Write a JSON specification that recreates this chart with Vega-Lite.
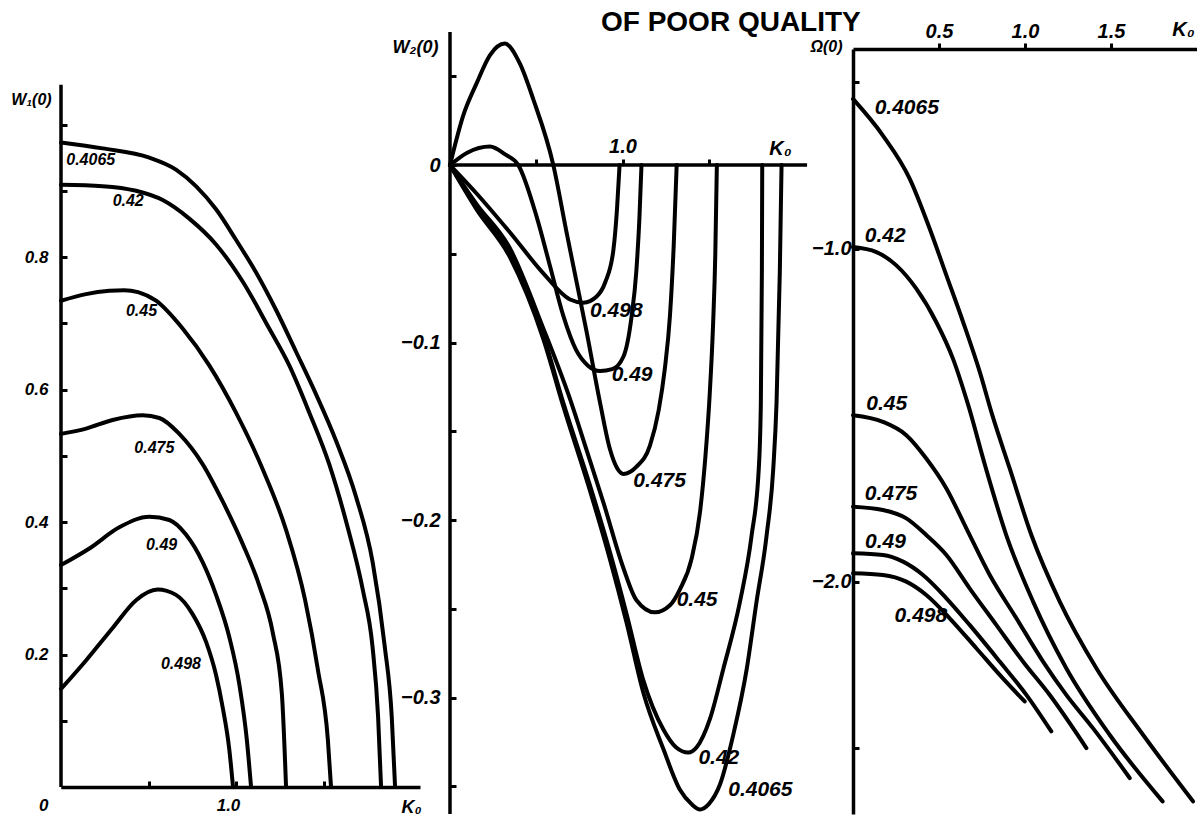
{
"$schema": "https://vega.github.io/schema/vega-lite/v6.json",
"background": "white",
"padding": {"left": 10, "top": 9, "right": 0, "bottom": 0},
"bounds": "flush",
"spacing": 30,
"title": {"text": "OF POOR QUALITY", "font": "Liberation Sans", "fontSize": 28, "fontWeight": "bold", "color": "black", "anchor": "start", "frame": "group", "dx": 540, "offset": -18},
"config": {
  "view": {"stroke": null},
  "axis": {"grid": false, "domainColor": "black", "domainWidth": 3.5, "tickColor": "black", "tickWidth": 3, "labelColor": "black", "labelFont": "Liberation Sans", "labelFontWeight": "bold", "labelFontStyle": "italic", "labelFlush": false, "labelOverlap": false, "labelBound": false, "titleFont": "Liberation Sans", "titleFontWeight": "bold", "titleFontStyle": "italic", "titleColor": "black"}
},
"datasets": {
  "p1": [
    {"p":"0.4065","k":0,"w":0.973},{"p":"0.4065","k":0.238,"w":0.964},{"p":"0.4065","k":0.505,"w":0.95},{"p":"0.4065","k":0.657,"w":0.932},{"p":"0.4065","k":0.771,"w":0.907},{"p":"0.4065","k":0.886,"w":0.872},{"p":"0.4065","k":1.0,"w":0.826},{"p":"0.4065","k":1.114,"w":0.777},{"p":"0.4065","k":1.229,"w":0.72},{"p":"0.4065","k":1.343,"w":0.657},{"p":"0.4065","k":1.457,"w":0.593},{"p":"0.4065","k":1.571,"w":0.523},{"p":"0.4065","k":1.686,"w":0.438},{"p":"0.4065","k":1.781,"w":0.339},{"p":"0.4065","k":1.85,"w":0.212},{"p":"0.4065","k":1.89,"w":0.106},{"p":"0.4065","k":1.909,"w":0},
    {"p":"0.42","k":0,"w":0.909},{"p":"0.42","k":0.238,"w":0.907},{"p":"0.42","k":0.429,"w":0.9},{"p":"0.42","k":0.581,"w":0.886},{"p":"0.42","k":0.733,"w":0.858},{"p":"0.42","k":0.886,"w":0.819},{"p":"0.42","k":1.038,"w":0.763},{"p":"0.42","k":1.19,"w":0.692},{"p":"0.42","k":1.305,"w":0.636},{"p":"0.42","k":1.419,"w":0.565},{"p":"0.42","k":1.533,"w":0.487},{"p":"0.42","k":1.635,"w":0.395},{"p":"0.42","k":1.725,"w":0.297},{"p":"0.42","k":1.78,"w":0.212},{"p":"0.42","k":1.812,"w":0.106},{"p":"0.42","k":1.829,"w":0},
    {"p":"0.45","k":0,"w":0.734},{"p":"0.45","k":0.143,"w":0.744},{"p":"0.45","k":0.276,"w":0.749},{"p":"0.45","k":0.36,"w":0.75},{"p":"0.45","k":0.44,"w":0.747},{"p":"0.45","k":0.543,"w":0.734},{"p":"0.45","k":0.695,"w":0.692},{"p":"0.45","k":0.848,"w":0.636},{"p":"0.45","k":1.0,"w":0.565},{"p":"0.45","k":1.152,"w":0.48},{"p":"0.45","k":1.286,"w":0.388},{"p":"0.45","k":1.395,"w":0.282},{"p":"0.45","k":1.468,"w":0.177},{"p":"0.45","k":1.525,"w":0.071},{"p":"0.45","k":1.543,"w":0},
    {"p":"0.475","k":0,"w":0.533},{"p":"0.475","k":0.143,"w":0.541},{"p":"0.475","k":0.295,"w":0.554},{"p":"0.475","k":0.467,"w":0.561},{"p":"0.475","k":0.562,"w":0.557},{"p":"0.475","k":0.676,"w":0.533},{"p":"0.475","k":0.81,"w":0.487},{"p":"0.475","k":0.924,"w":0.431},{"p":"0.475","k":1.038,"w":0.367},{"p":"0.475","k":1.133,"w":0.304},{"p":"0.475","k":1.21,"w":0.233},{"p":"0.475","k":1.262,"w":0.141},{"p":"0.475","k":1.286,"w":0},
    {"p":"0.49","k":0,"w":0.335},{"p":"0.49","k":0.162,"w":0.36},{"p":"0.49","k":0.333,"w":0.392},{"p":"0.49","k":0.505,"w":0.408},{"p":"0.49","k":0.619,"w":0.403},{"p":"0.49","k":0.714,"w":0.381},{"p":"0.49","k":0.81,"w":0.339},{"p":"0.49","k":0.886,"w":0.29},{"p":"0.49","k":0.962,"w":0.226},{"p":"0.49","k":1.019,"w":0.155},{"p":"0.49","k":1.062,"w":0.071},{"p":"0.49","k":1.086,"w":0},
    {"p":"0.498","k":0,"w":0.148},{"p":"0.498","k":0.143,"w":0.191},{"p":"0.498","k":0.295,"w":0.24},{"p":"0.498","k":0.429,"w":0.282},{"p":"0.498","k":0.552,"w":0.298},{"p":"0.498","k":0.657,"w":0.29},{"p":"0.498","k":0.752,"w":0.261},{"p":"0.498","k":0.829,"w":0.219},{"p":"0.498","k":0.886,"w":0.169},{"p":"0.498","k":0.924,"w":0.12},{"p":"0.498","k":0.962,"w":0.056},{"p":"0.498","k":0.983,"w":0}
  ],
  "p2": [
    {"p":"0.498","k":0,"w":0},{"p":"0.498","k":0.154,"w":-0.016},{"p":"0.498","k":0.348,"w":-0.038},{"p":"0.498","k":0.541,"w":-0.061},{"p":"0.498","k":0.696,"w":-0.0757},{"p":"0.498","k":0.773,"w":-0.0775},{"p":"0.498","k":0.85,"w":-0.074},{"p":"0.498","k":0.9,"w":-0.066},{"p":"0.498","k":0.947,"w":-0.048},{"p":"0.498","k":0.968,"w":-0.025},{"p":"0.498","k":0.983,"w":0},
    {"p":"0.49","k":0,"w":0},{"p":"0.49","k":0.1,"w":0.007},{"p":"0.49","k":0.232,"w":0.0105},{"p":"0.49","k":0.32,"w":0.006},{"p":"0.49","k":0.396,"w":0},{"p":"0.49","k":0.502,"w":-0.029},{"p":"0.49","k":0.58,"w":-0.057},{"p":"0.49","k":0.657,"w":-0.085},{"p":"0.49","k":0.73,"w":-0.104},{"p":"0.49","k":0.8,"w":-0.113},{"p":"0.49","k":0.87,"w":-0.116},{"p":"0.49","k":0.94,"w":-0.115},{"p":"0.49","k":1.005,"w":-0.108},{"p":"0.49","k":1.053,"w":-0.085},{"p":"0.49","k":1.08,"w":-0.06},{"p":"0.49","k":1.098,"w":-0.03},{"p":"0.49","k":1.11,"w":0},
    {"p":"0.475","k":0,"w":0},{"p":"0.475","k":0.077,"w":0.028},{"p":"0.475","k":0.154,"w":0.046},{"p":"0.475","k":0.232,"w":0.062},{"p":"0.475","k":0.317,"w":0.0685},{"p":"0.475","k":0.406,"w":0.057},{"p":"0.475","k":0.483,"w":0.037},{"p":"0.475","k":0.599,"w":0},{"p":"0.475","k":0.676,"w":-0.038},{"p":"0.475","k":0.734,"w":-0.066},{"p":"0.475","k":0.792,"w":-0.094},{"p":"0.475","k":0.87,"w":-0.134},{"p":"0.475","k":0.927,"w":-0.16},{"p":"0.475","k":0.97,"w":-0.171},{"p":"0.475","k":1.005,"w":-0.174},{"p":"0.475","k":1.08,"w":-0.17},{"p":"0.475","k":1.159,"w":-0.158},{"p":"0.475","k":1.21,"w":-0.138},{"p":"0.475","k":1.245,"w":-0.115},{"p":"0.475","k":1.275,"w":-0.085},{"p":"0.475","k":1.297,"w":-0.045},{"p":"0.475","k":1.314,"w":0},
    {"p":"0.45","k":0,"w":0},{"p":"0.45","k":0.154,"w":-0.022},{"p":"0.45","k":0.348,"w":-0.047},{"p":"0.45","k":0.541,"w":-0.092},{"p":"0.45","k":0.7,"w":-0.133},{"p":"0.45","k":0.79,"w":-0.16},{"p":"0.45","k":0.889,"w":-0.19},{"p":"0.45","k":1.005,"w":-0.227},{"p":"0.45","k":1.08,"w":-0.245},{"p":"0.45","k":1.188,"w":-0.252},{"p":"0.45","k":1.275,"w":-0.248},{"p":"0.45","k":1.333,"w":-0.239},{"p":"0.45","k":1.4,"w":-0.222},{"p":"0.45","k":1.45,"w":-0.195},{"p":"0.45","k":1.48,"w":-0.165},{"p":"0.45","k":1.505,"w":-0.13},{"p":"0.45","k":1.525,"w":-0.09},{"p":"0.45","k":1.538,"w":-0.05},{"p":"0.45","k":1.547,"w":0},
    {"p":"0.42","k":0,"w":0},{"p":"0.42","k":0.154,"w":-0.024},{"p":"0.42","k":0.348,"w":-0.05},{"p":"0.42","k":0.541,"w":-0.096},{"p":"0.42","k":0.657,"w":-0.134},{"p":"0.42","k":0.81,"w":-0.18},{"p":"0.42","k":0.927,"w":-0.218},{"p":"0.42","k":1.024,"w":-0.253},{"p":"0.42","k":1.12,"w":-0.29},{"p":"0.42","k":1.237,"w":-0.318},{"p":"0.42","k":1.31,"w":-0.328},{"p":"0.42","k":1.381,"w":-0.331},{"p":"0.42","k":1.43,"w":-0.328},{"p":"0.42","k":1.507,"w":-0.312},{"p":"0.42","k":1.584,"w":-0.284},{"p":"0.42","k":1.681,"w":-0.246},{"p":"0.42","k":1.748,"w":-0.209},{"p":"0.42","k":1.79,"w":-0.171},{"p":"0.42","k":1.802,"w":-0.134},{"p":"0.42","k":1.808,"w":-0.06},{"p":"0.42","k":1.81,"w":0},
    {"p":"0.4065","k":0,"w":0},{"p":"0.4065","k":0.154,"w":-0.025},{"p":"0.4065","k":0.348,"w":-0.052},{"p":"0.4065","k":0.541,"w":-0.098},{"p":"0.4065","k":0.657,"w":-0.136},{"p":"0.4065","k":0.81,"w":-0.183},{"p":"0.4065","k":0.927,"w":-0.222},{"p":"0.4065","k":1.024,"w":-0.258},{"p":"0.4065","k":1.12,"w":-0.297},{"p":"0.4065","k":1.237,"w":-0.329},{"p":"0.4065","k":1.333,"w":-0.352},{"p":"0.4065","k":1.4,"w":-0.36},{"p":"0.4065","k":1.449,"w":-0.363},{"p":"0.4065","k":1.5,"w":-0.36},{"p":"0.4065","k":1.565,"w":-0.349},{"p":"0.4065","k":1.642,"w":-0.321},{"p":"0.4065","k":1.72,"w":-0.284},{"p":"0.4065","k":1.777,"w":-0.246},{"p":"0.4065","k":1.835,"w":-0.209},{"p":"0.4065","k":1.874,"w":-0.171},{"p":"0.4065","k":1.893,"w":-0.134},{"p":"0.4065","k":1.912,"w":-0.06},{"p":"0.4065","k":1.922,"w":0}
  ],
  "p3": [
    {"p":"0.4065","k":0,"w":-0.55},{"p":"0.4065","k":0.174,"w":-0.66},{"p":"0.4065","k":0.33,"w":-0.79},{"p":"0.4065","k":0.446,"w":-0.94},{"p":"0.4065","k":0.543,"w":-1.08},{"p":"0.4065","k":0.64,"w":-1.22},{"p":"0.4065","k":0.737,"w":-1.37},{"p":"0.4065","k":0.81,"w":-1.5},{"p":"0.4065","k":0.911,"w":-1.66},{"p":"0.4065","k":1.037,"w":-1.86},{"p":"0.4065","k":1.202,"w":-2.06},{"p":"0.4065","k":1.415,"w":-2.26},{"p":"0.4065","k":1.686,"w":-2.46},{"p":"0.4065","k":1.977,"w":-2.66},
    {"p":"0.42","k":0,"w":-0.995},{"p":"0.42","k":0.136,"w":-1.01},{"p":"0.42","k":0.252,"w":-1.05},{"p":"0.42","k":0.368,"w":-1.12},{"p":"0.42","k":0.484,"w":-1.22},{"p":"0.42","k":0.581,"w":-1.33},{"p":"0.42","k":0.67,"w":-1.47},{"p":"0.42","k":0.77,"w":-1.655},{"p":"0.42","k":0.891,"w":-1.86},{"p":"0.42","k":1.047,"w":-2.06},{"p":"0.42","k":1.24,"w":-2.26},{"p":"0.42","k":1.492,"w":-2.46},{"p":"0.42","k":1.8,"w":-2.66},
    {"p":"0.45","k":0,"w":-1.5},{"p":"0.45","k":0.174,"w":-1.52},{"p":"0.45","k":0.31,"w":-1.56},{"p":"0.45","k":0.426,"w":-1.63},{"p":"0.45","k":0.543,"w":-1.72},{"p":"0.45","k":0.659,"w":-1.84},{"p":"0.45","k":0.795,"w":-1.98},{"p":"0.45","k":0.95,"w":-2.11},{"p":"0.45","k":1.105,"w":-2.24},{"p":"0.45","k":1.24,"w":-2.34},{"p":"0.45","k":1.395,"w":-2.44},{"p":"0.45","k":1.609,"w":-2.59},
    {"p":"0.475","k":0,"w":-1.775},{"p":"0.475","k":0.174,"w":-1.785},{"p":"0.475","k":0.31,"w":-1.81},{"p":"0.475","k":0.426,"w":-1.86},{"p":"0.475","k":0.543,"w":-1.92},{"p":"0.475","k":0.678,"w":-2.02},{"p":"0.475","k":0.833,"w":-2.13},{"p":"0.475","k":0.988,"w":-2.24},{"p":"0.475","k":1.143,"w":-2.34},{"p":"0.475","k":1.357,"w":-2.5},
    {"p":"0.49","k":0,"w":-1.915},{"p":"0.49","k":0.174,"w":-1.92},{"p":"0.49","k":0.291,"w":-1.94},{"p":"0.49","k":0.407,"w":-1.98},{"p":"0.49","k":0.543,"w":-2.05},{"p":"0.49","k":0.678,"w":-2.13},{"p":"0.49","k":0.853,"w":-2.24},{"p":"0.49","k":1.008,"w":-2.34},{"p":"0.49","k":1.153,"w":-2.45},
    {"p":"0.498","k":0,"w":-1.975},{"p":"0.498","k":0.174,"w":-1.98},{"p":"0.498","k":0.31,"w":-2.0},{"p":"0.498","k":0.426,"w":-2.04},{"p":"0.498","k":0.562,"w":-2.11},{"p":"0.498","k":0.717,"w":-2.2},{"p":"0.498","k":0.853,"w":-2.28},{"p":"0.498","k":0.998,"w":-2.36}
  ],
  "l1": [
    {"k":0.03,"w":0.946,"t":"0.4065"},{"k":0.295,"w":0.885,"t":"0.42"},{"k":0.371,"w":0.719,"t":"0.45"},{"k":0.419,"w":0.512,"t":"0.475"},{"k":0.486,"w":0.365,"t":"0.49"},{"k":0.571,"w":0.186,"t":"0.498"}
  ],
  "l2": [
    {"k":0.812,"w":-0.082,"t":"0.498"},{"k":0.937,"w":-0.118,"t":"0.49"},{"k":1.063,"w":-0.178,"t":"0.475"},{"k":1.314,"w":-0.245,"t":"0.45"},{"k":1.44,"w":-0.334,"t":"0.42"},{"k":1.613,"w":-0.352,"t":"0.4065"}
  ],
  "l3": [
    {"k":0.126,"w":-0.577,"t":"0.4065"},{"k":0.068,"w":-0.962,"t":"0.42"},{"k":0.077,"w":-1.465,"t":"0.45"},{"k":0.068,"w":-1.736,"t":"0.475"},{"k":0.07,"w":-1.88,"t":"0.49"},{"k":0.242,"w":-2.103,"t":"0.498"}
  ]
},
"hconcat": [
  {
    "width": 359, "height": 738,
    "layer": [
      {
        "data": {"name": "p1"},
        "mark": {"type": "line", "interpolate": "monotone", "color": "black", "strokeWidth": 4, "strokeCap": "round"},
        "encoding": {
          "x": {"field": "k", "type": "quantitative", "scale": {"domain": [0, 2.0514], "nice": false, "zero": false},
                "axis": {"values": [0.5, 1, 1.5], "labelExpr": "datum.value == 1 ? '1.0' : ''", "tickSize": -6, "labelPadding": 16, "labelOffset": -8, "labelFontSize": 17, "title": "K₀", "titleFontSize": 18, "titleX": 350, "titleY": 20, "titleAlign": "center", "titleBaseline": "middle", "titleAngle": 0}},
          "y": {"field": "w", "type": "quantitative", "scale": {"domain": [0, 1.114], "nice": false, "zero": false},
                "axis": {"values": [0, 0.1, 0.2, 0.3, 0.4, 0.5, 0.6, 0.7, 0.8, 0.9, 1.0], "labelExpr": "(round(datum.value * 10) % 2 == 0 && datum.value < 0.9) ? (datum.value == 0 ? '0' : format(datum.value, '.1f')) : ''", "domain": false, "tickSize": -6, "labelPadding": 19, "labelFontSize": 17, "labelOffset": {"condition": {"test": "datum.value == 0", "value": 18}, "value": 0}, "title": "W₁(0)", "titleAngle": 0, "titleX": -30, "titleY": 50, "titleAlign": "center", "titleBaseline": "middle", "titleFontSize": 16}},
          "detail": {"field": "p", "type": "nominal"}
        }
      },
      {
        "data": {"values": [{}]},
        "mark": {"type": "rule", "color": "black", "strokeWidth": 3.5},
        "encoding": {"x": {"datum": 0, "type": "quantitative"}, "y": {"datum": 0, "type": "quantitative"}, "y2": {"datum": 1.06}}
      },
      {
        "data": {"name": "l1"},
        "mark": {"type": "text", "align": "left", "baseline": "middle", "font": "Liberation Sans", "fontWeight": "bold", "fontStyle": "italic", "fontSize": 16, "color": "black"},
        "encoding": {"x": {"field": "k", "type": "quantitative"}, "y": {"field": "w", "type": "quantitative"}, "text": {"field": "t"}}
      }
    ]
  },
  {
    "width": 373, "height": 765,
    "layer": [
      {
        "data": {"name": "p2"},
        "mark": {"type": "line", "interpolate": "monotone", "color": "black", "strokeWidth": 4, "strokeCap": "round"},
        "encoding": {
          "x": {"field": "k", "type": "quantitative", "scale": {"domain": [0, 2.1623], "nice": false, "zero": false},
                "axis": {"orient": "top", "offset": -116, "domain": false, "values": [0.5, 1, 1.5], "labelExpr": "datum.value == 1 ? '1.0' : ''", "tickSize": 6, "labelPadding": 3, "labelFontSize": 20, "title": "K₀", "titleFontSize": 20, "titleX": 330, "titleY": -17, "titleAlign": "center", "titleBaseline": "middle", "titleAngle": 0}},
          "y": {"field": "w", "type": "quantitative", "scale": {"domain": [-0.3656, 0.0654], "nice": false, "zero": false},
                "axis": {"values": [0.05, 0, -0.05, -0.1, -0.15, -0.2, -0.25, -0.3, -0.35], "labelExpr": "abs(datum.value * 10 - round(datum.value * 10)) < 0.001 ? (datum.value == 0 ? '0' : format(datum.value, '.1f')) : ''", "domain": false, "tickSize": -6, "labelPadding": 16, "labelFontSize": 20, "title": "W₂(0)", "titleAngle": 0, "titleX": -35, "titleY": -2, "titleAlign": "center", "titleBaseline": "middle", "titleFontSize": 18}},
          "detail": {"field": "p", "type": "nominal"}
        }
      },
      {
        "data": {"values": [{}]},
        "mark": {"type": "rule", "color": "black", "strokeWidth": 3.5},
        "encoding": {"x": {"datum": 0, "type": "quantitative"}, "x2": {"datum": 2.07}, "y": {"datum": 0, "type": "quantitative"}}
      },
      {
        "data": {"values": [{}]},
        "mark": {"type": "rule", "color": "black", "strokeWidth": 3.5},
        "encoding": {"x": {"datum": 0, "type": "quantitative"}, "y": {"datum": -0.3656, "type": "quantitative"}, "y2": {"datum": 0.075}}
      },
      {
        "data": {"name": "l2"},
        "mark": {"type": "text", "align": "left", "baseline": "middle", "font": "Liberation Sans", "fontWeight": "bold", "fontStyle": "italic", "fontSize": 21, "color": "black"},
        "encoding": {"x": {"field": "k", "type": "quantitative"}, "y": {"field": "w", "type": "quantitative"}, "text": {"field": "t"}}
      }
    ]
  },
  {
    "width": 347, "height": 765,
    "layer": [
      {
        "data": {"name": "p3"},
        "mark": {"type": "line", "interpolate": "monotone", "color": "black", "strokeWidth": 4, "strokeCap": "round"},
        "encoding": {
          "x": {"field": "k", "type": "quantitative", "scale": {"domain": [0, 2.0174], "nice": false, "zero": false},
                "axis": {"orient": "top", "values": [0.5, 1, 1.5], "format": ".1f", "tickSize": 6, "labelPadding": 2, "labelFontSize": 20, "title": "K₀", "titleFontSize": 20, "titleX": 330, "titleY": -20, "titleAlign": "center", "titleBaseline": "middle", "titleAngle": 0}},
          "y": {"field": "w", "type": "quantitative", "scale": {"domain": [-2.698, -0.4], "nice": false, "zero": false},
                "axis": {"values": [-0.5, -1, -1.5, -2, -2.5], "labelExpr": "(datum.value == -1 || datum.value == -2) ? format(datum.value, '.1f') : ''", "tickSize": -6, "labelPadding": 8, "labelFontSize": 20, "title": "Ω(0)", "titleAngle": 0, "titleX": -27, "titleY": -3, "titleAlign": "center", "titleBaseline": "middle", "titleFontSize": 16}},
          "detail": {"field": "p", "type": "nominal"}
        }
      },
      {
        "data": {"name": "l3"},
        "mark": {"type": "text", "align": "left", "baseline": "middle", "font": "Liberation Sans", "fontWeight": "bold", "fontStyle": "italic", "fontSize": 21, "color": "black"},
        "encoding": {"x": {"field": "k", "type": "quantitative"}, "y": {"field": "w", "type": "quantitative"}, "text": {"field": "t"}}
      }
    ]
  }
]
}
